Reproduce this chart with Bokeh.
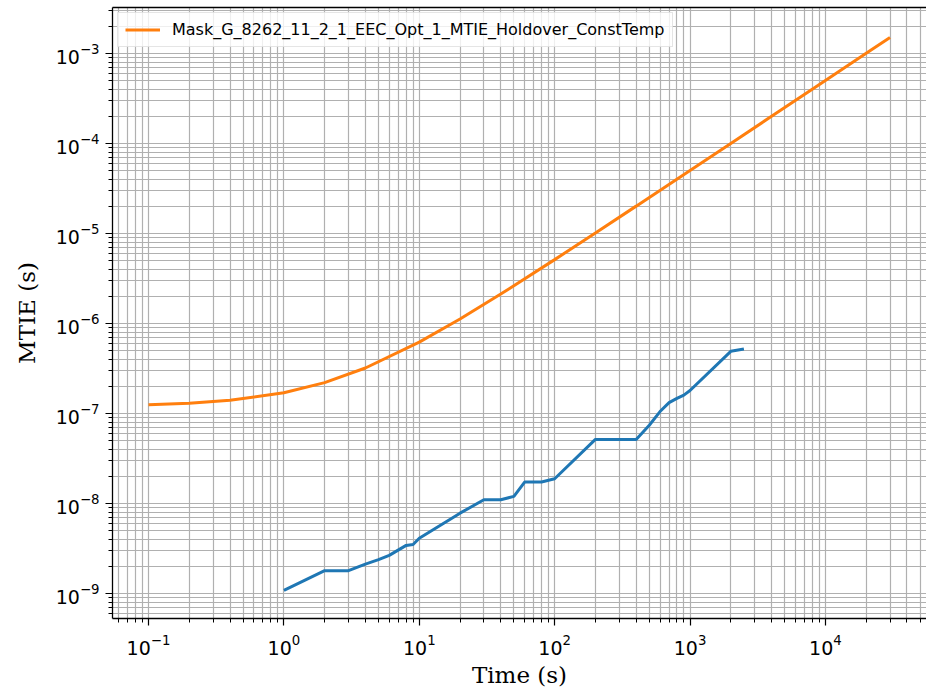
from bokeh.plotting import figure
from bokeh.models import Range1d, FixedTicker, LogAxis, Legend, LegendItem
from bokeh.embed import file_html
from bokeh.resources import INLINE

# Mask curve (orange)
tau_mask = [0.1, 0.2, 0.4, 1, 2, 4, 10, 20, 40, 100, 200, 400, 1000, 2000,
            4000, 10000, 20000, 30000]
mtie_mask = [1.25e-7, 1.30e-7, 1.40e-7, 1.70e-7, 2.20e-7, 3.20e-7, 6.20e-7,
             1.12e-6, 2.12e-6, 5.12e-6, 1.012e-5, 2.012e-5, 5.013e-5,
             1.0014e-4, 2.0021e-4, 5.007e-4, 1.0024e-3, 1.5053e-3]
mask_label = "Mask_G_8262_11_2_1_EEC_Opt_1_MTIE_Holdover_ConstTemp"

# Measured MTIE (blue)
tau_meas = [1, 2, 3, 4, 5, 6, 8, 9, 10, 20, 30, 40, 50, 60, 80, 100, 200,
            400, 500, 600, 700, 800, 900, 1000, 2000, 2500]
mtie_meas = [1.08e-9, 1.79e-9, 1.79e-9, 2.12e-9, 2.38e-9, 2.65e-9, 3.42e-9,
             3.50e-9, 4.10e-9, 7.8e-9, 1.10e-8, 1.10e-8, 1.20e-8, 1.73e-8,
             1.73e-8, 1.88e-8, 5.15e-8, 5.15e-8, 7.4e-8, 1.05e-7, 1.32e-7,
             1.47e-7, 1.60e-7, 1.80e-7, 4.90e-7, 5.20e-7]

x_decades = [-2, -1, 0, 1, 2, 3, 4, 5]
y_decades = [-10, -9, -8, -7, -6, -5, -4, -3, -2]
minor_mult = [2, 3, 4, 5, 6, 7, 8, 9]

x_major = [10.0 ** k for k in x_decades]
x_minor = [m * 10.0 ** k for k in x_decades for m in minor_mult]
y_major = [10.0 ** k for k in y_decades]
y_minor = [m * 10.0 ** k for k in y_decades for m in minor_mult]

p = figure(width=926, height=693, x_axis_type="log", y_axis_type="log",
           x_range=Range1d(0.0542, 55800), y_range=Range1d(5.27e-10, 3.24e-3),
           output_backend="svg", toolbar_location=None,
           min_border_left=112, min_border_right=0, min_border_top=7,
           min_border_bottom=75)
p.outline_line_color = None
p.background_fill_color = "white"
p.border_fill_color = "white"

p.xaxis.ticker = FixedTicker(ticks=x_major, minor_ticks=x_minor)
p.yaxis.ticker = FixedTicker(ticks=y_major, minor_ticks=y_minor)

for ax in (p.xaxis[0], p.yaxis[0]):
    ax.axis_line_color = "black"
    ax.axis_line_width = 1.3
    ax.major_tick_line_color = "black"
    ax.minor_tick_line_color = "black"
    ax.major_tick_line_width = 1.2
    ax.minor_tick_line_width = 1.0
    ax.major_tick_out = 7
    ax.major_tick_in = 0
    ax.minor_tick_out = 4
    ax.minor_tick_in = 0
    ax.major_label_text_font = "DejaVu Sans"
    ax.major_label_text_font_size = "19px"
    ax.major_label_text_color = "black"
    ax.axis_label_text_font = "DejaVu Serif"
    ax.axis_label_text_font_size = "23px"
    ax.axis_label_text_font_style = "normal"
    ax.axis_label_text_color = "black"

p.xaxis.axis_label = "Time (s)"
p.yaxis.axis_label = "MTIE (s)"
p.xaxis.major_label_standoff = 8
p.yaxis.major_label_standoff = 6
p.xaxis.axis_label_standoff = 4
p.yaxis.axis_label_standoff = 13

top = LogAxis(axis_line_color="black", axis_line_width=1.3,
              major_tick_line_color=None, minor_tick_line_color=None,
              major_label_text_font_size="0px",
              ticker=FixedTicker(ticks=[], minor_ticks=[]))
p.add_layout(top, "above")

for g in (p.xgrid[0], p.ygrid[0]):
    g.grid_line_color = "#b0b0b0"
    g.grid_line_width = 1.2
    g.minor_grid_line_color = "#b0b0b0"
    g.minor_grid_line_width = 1.2

p.line(tau_meas, mtie_meas, line_color="#1f77b4", line_width=3)
r_mask = p.line(tau_mask, mtie_mask, line_color="#ff7f0e", line_width=3)

legend = Legend(items=[LegendItem(label=mask_label, renderers=[r_mask])],
                location="top_left", margin=5, padding=7, spacing=0,
                glyph_width=35, glyph_height=19, label_height=19,
                label_standoff=12,
                label_text_font="DejaVu Sans", label_text_font_size="16px",
                label_text_color="black",
                border_line_color="#cccccc", border_line_width=1,
                background_fill_color="white", background_fill_alpha=0.8)
p.add_layout(legend)

open("out.html", "w").write(file_html(p, INLINE))
